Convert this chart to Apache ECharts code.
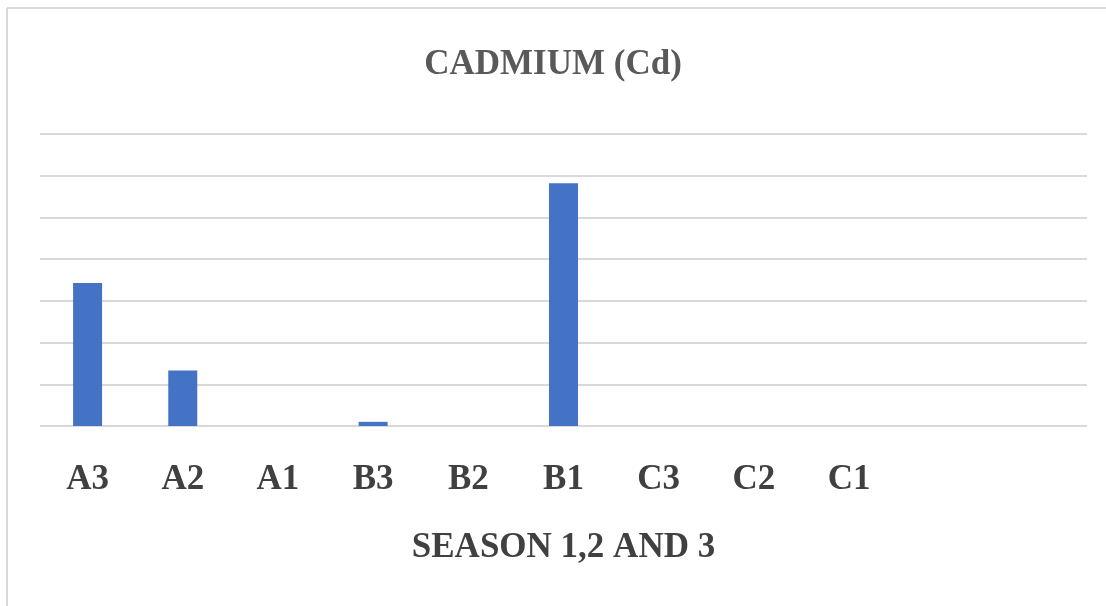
<!DOCTYPE html>
<html>
<head>
<meta charset="utf-8">
<script src="https://cdn.jsdelivr.net/npm/echarts@6/dist/echarts.min.js"></script>
<style>
  html, body { margin: 0; padding: 0; background: #fff; }
  #chart { width: 1106px; height: 606px; }
</style>
</head>
<body>
<div id="chart"></div>
<script>
// sites, two empty slots on the right as in the original sheet
const categories = ['A3', 'A2', 'A1', 'B3', 'B2', 'B1', 'C3', 'C2', 'C1', '', '']
const cadmium = [3.43, 1.33, 0, 0.1, 0, 5.82, 0, 0, 0, null, null]

const chart = echarts.init(document.getElementById('chart'))
const font = '"Liberation Serif", "Times New Roman", serif'

const option = {
    animation: false,
    title: {
        text: 'CADMIUM (Cd)',
        left: 'center',
        top: 42,
        textStyle: {
            fontFamily: font,
            fontWeight: 'bold',
            fontSize: 35,
            color: '#595959'
        }
    },
    graphic: [
        // faint frame on the top and left edges
        { type: 'line', shape: { x1: 7, y1: 8, x2: 1106, y2: 8 }, style: { stroke: '#d9d9d9', lineWidth: 2 } },
        { type: 'line', shape: { x1: 7, y1: 8, x2: 7, y2: 606 }, style: { stroke: '#d9d9d9', lineWidth: 2 } }
    ],
    grid: {
        left: 40,
        right: 19,
        top: 134,
        bottom: 180
    },
    xAxis: {
        type: 'category',
        data: categories,
        axisLine: { show: false },
        axisTick: { show: false },
        axisLabel: {
            interval: 0,
            margin: 36,
            fontFamily: font,
            fontWeight: 'bold',
            fontSize: 35,
            color: '#404040'
        },
        name: 'SEASON 1,2 AND 3',
        nameLocation: 'middle',
        nameGap: 104,
        nameTextStyle: {
            fontFamily: font,
            fontWeight: 'bold',
            fontSize: 35,
            color: '#404040'
        }
    },
    yAxis: {
        type: 'value',
        min: 0,
        max: 7,
        interval: 1,
        axisLabel: { show: false },
        axisLine: { show: false },
        axisTick: { show: false },
        splitLine: { lineStyle: { color: '#d9d9d9', width: 2 } }
    },
    series: [
        {
            type: 'bar',
            data: cadmium,
            barWidth: 29,
            itemStyle: { color: '#4472C4' }
        }
    ]
}
chart.setOption(option)
</script>
</body>
</html>
